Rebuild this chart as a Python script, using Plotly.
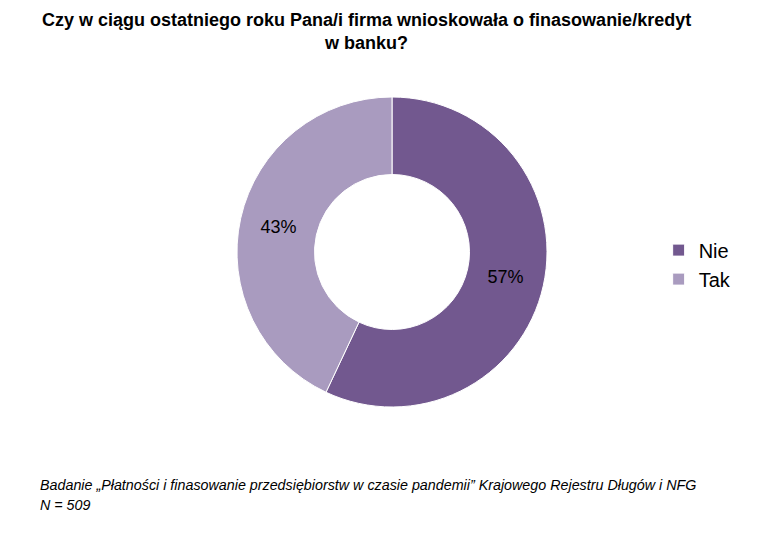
import plotly.graph_objects as go

labels = ["Nie", "Tak"]
values = [57, 43]
colors = ["#72588F", "#A99BBF"]
title_lines = ["Czy w ciągu ostatniego roku Pana/i firma wnioskowała o finasowanie/kredyt", "w banku?"]
note_lines = ["Badanie „Płatności i finasowanie przedsiębiorstw w czasie pandemii” Krajowego Rejestru Długów i NFG", "N = 509"]

W, H = 770, 546
OFF = 8  # page body margin offset
cx, cy, R = 392 - OFF, 252 - OFF, 155
font = "Liberation Sans, Arial"

fig = go.Figure(go.Pie(
    labels=labels, values=values, hole=0.5, sort=False, direction="clockwise", rotation=0,
    marker=dict(colors=colors, line=dict(color="white", width=1)),
    textinfo="percent", texttemplate="%{percent:.0%}", textposition="inside", insidetextorientation="horizontal",
    textfont=dict(size=18, color="black", family=font),
    domain=dict(x=[(cx - R) / W, (cx + R) / W], y=[(H - cy - R) / H, (H - cy + R) / H]),
))

annotations = [
    dict(text="<b>" + "<br>".join(title_lines) + "</b>", x=(366 - OFF) / W, y=1 - (8 - OFF) / H,
         xref="paper", yref="paper", xanchor="center", yanchor="top", showarrow=False, align="center",
         font=dict(size=18, color="black", family=font)),
]
for i, line in enumerate(note_lines):
    annotations.append(dict(text="<i>" + line + "</i>", x=(38 - OFF) / W, y=1 - (485 - OFF + 20 * i) / H,
                            xref="paper", yref="paper", xanchor="left", yanchor="middle", showarrow=False,
                            align="left", font=dict(size=14.3, color="black", family=font)))

fig.update_layout(
    width=W, height=H, margin=dict(l=0, r=0, t=0, b=0),
    paper_bgcolor="white", plot_bgcolor="white",
    font=dict(family=font),
    legend=dict(x=0.845, y=0.53, xanchor="left", yanchor="middle", font=dict(size=20, color="black", family=font),
                itemwidth=30),
    annotations=annotations,
)

fig.write_html("out.html")
